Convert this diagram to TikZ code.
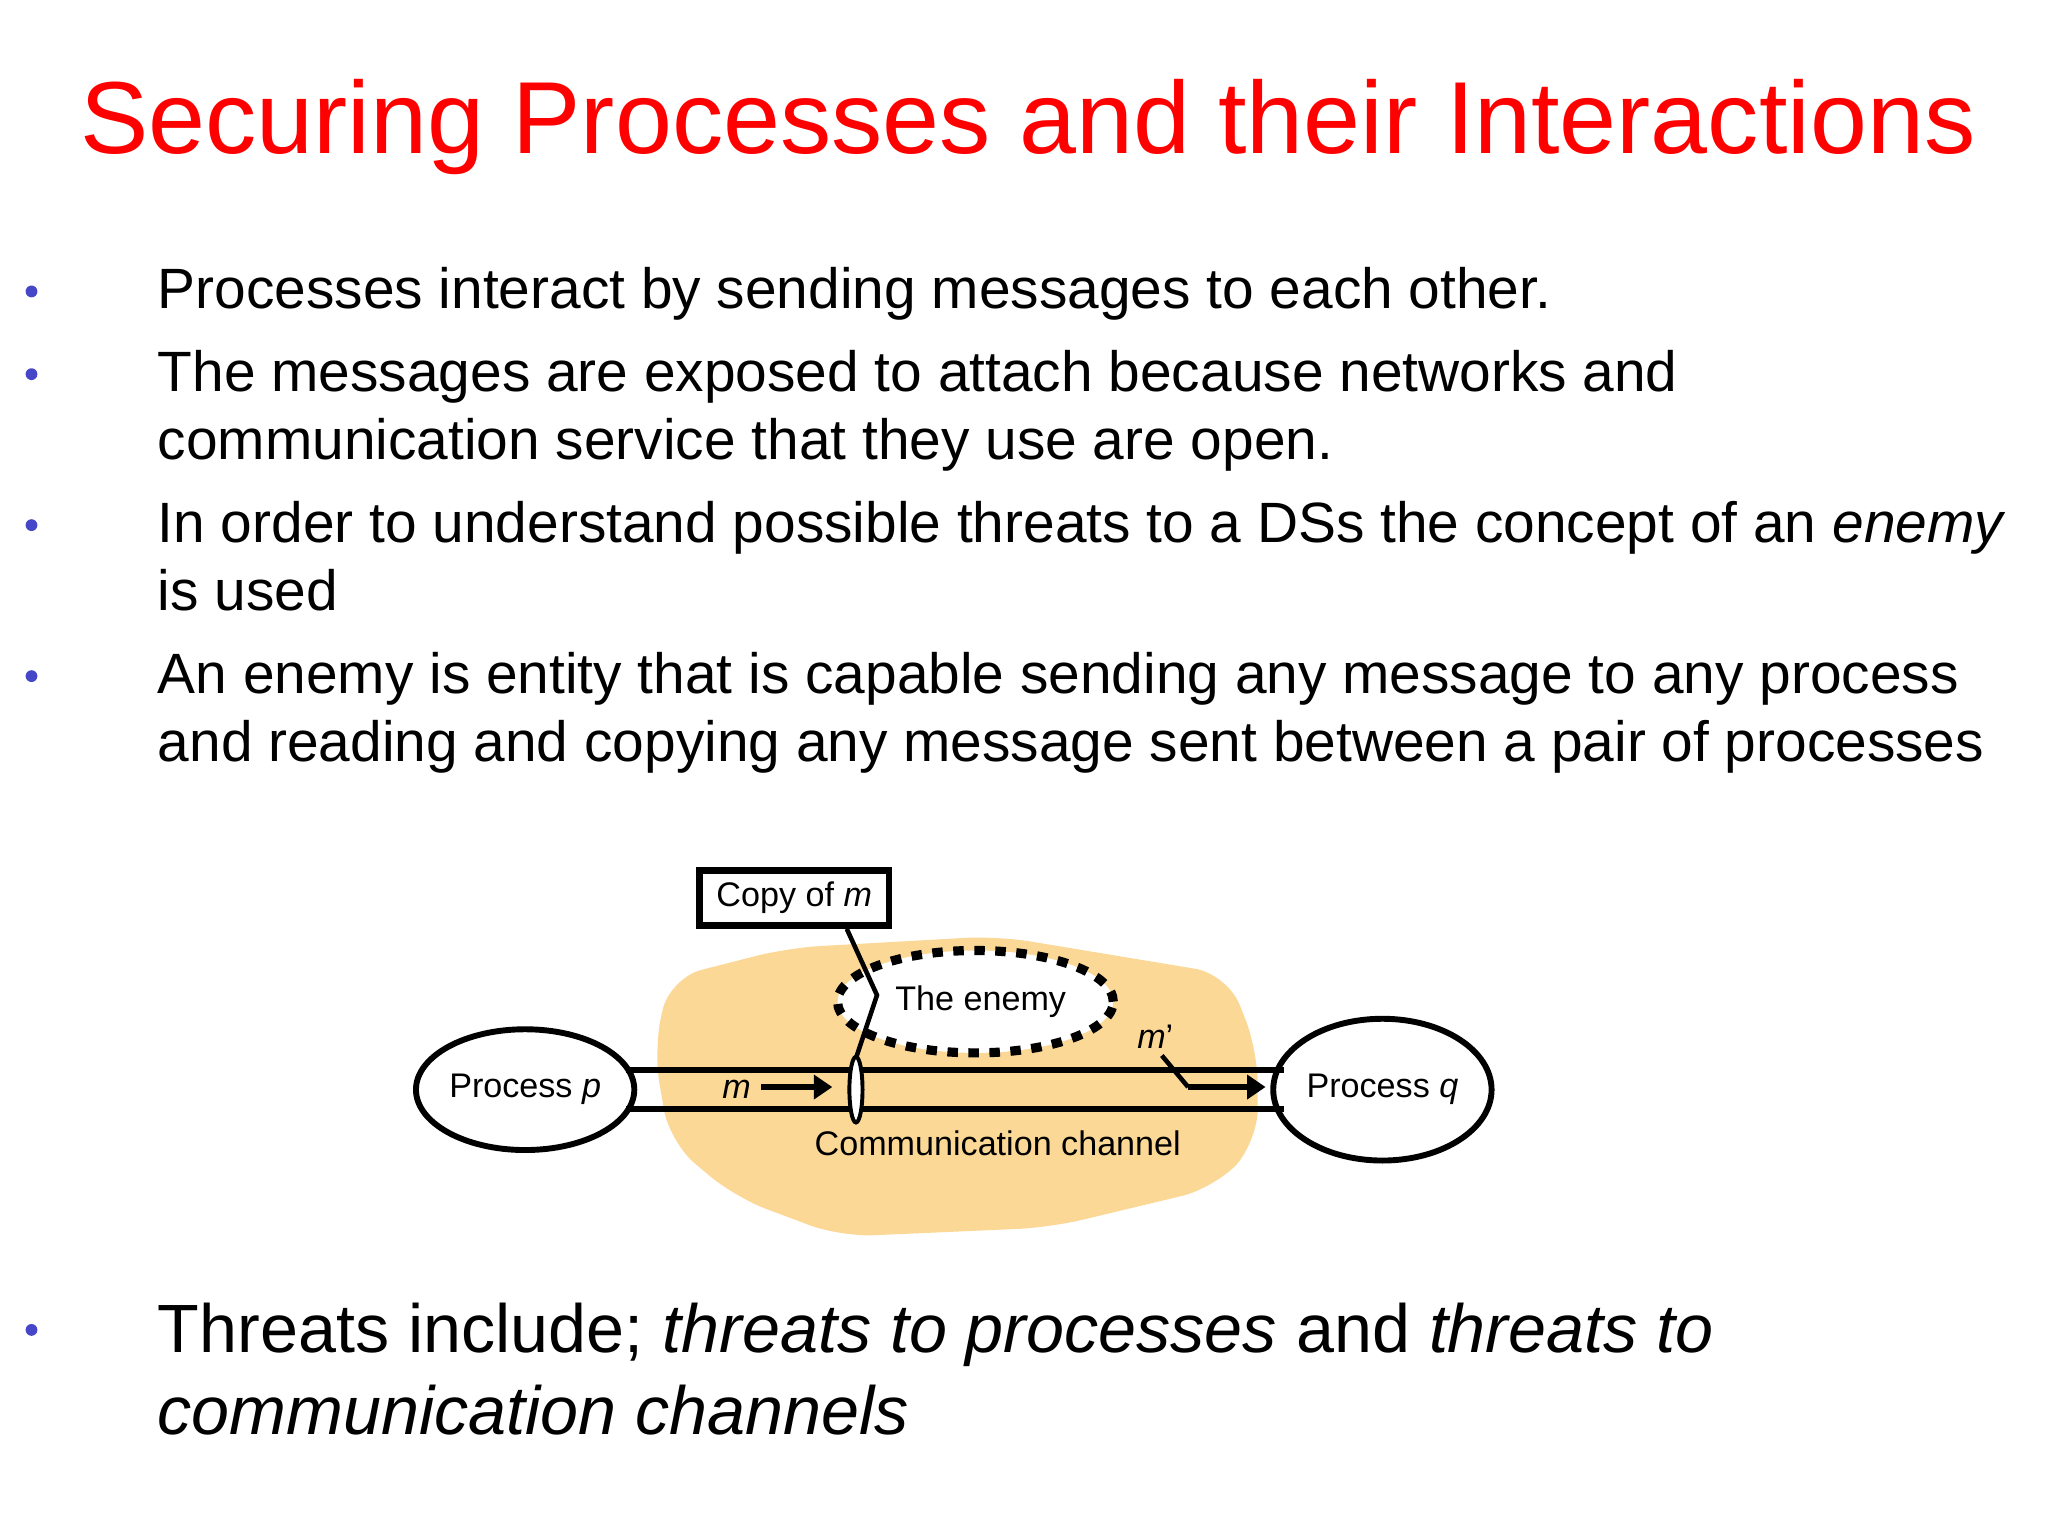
\documentclass[tikz,border=0pt]{standalone}
\usepackage{fontspec}
\setmainfont{Liberation Sans}
\usetikzlibrary{arrows.meta,shapes.geometric}
\definecolor{blob}{RGB}{252,216,150}
\definecolor{bulc}{RGB}{70,70,200}
\begin{document}
\begin{tikzpicture}[x=1pt,y=-1pt,
  bul/.style={anchor=base west,font=\fontsize{43.3}{52}\selectfont,inner sep=0},
  bigb/.style={anchor=base west,font=\fontsize{52}{64}\selectfont,inner sep=0},
  dot/.style={circle,fill=bulc,inner sep=0,minimum size=9pt},
  lab/.style={font=\fontsize{26}{30}\selectfont,inner sep=1pt},
  proc/.style={draw,ellipse,line width=4.5pt},
  arr/.style={line width=4pt,-{Triangle[length=14pt,width=18pt]}}]
\useasboundingbox (0,0) rectangle (1560,1170);
\fill[white] (0,0) rectangle (1560,1170);
\node[anchor=base,text=red,font=\fontsize{78}{80}\selectfont,inner sep=0] (title) at (783,117) {Securing Processes and their Interactions};
\node[dot] (d1) at (24,222) {}; \node[bul] (b1) at (120,235) {Processes interact by sending messages to each other.};
\node[dot] (d2) at (24,285) {}; \node[bul] (b2) at (120,298) {The messages are exposed to attach because networks and};
\node[bul] (b2b) at (120,350) {communication service that they use are open.};
\node[dot] (d3) at (24,400) {}; \node[bul] (b3) at (120,413) {In order to understand possible threats to a DSs the concept of an \textit{enemy}};
\node[bul] (b3b) at (120,465) {is used};
\node[dot] (d4) at (24,515) {}; \node[bul] (b4) at (120,528) {An enemy is entity that is capable sending any message to any process};
\node[bul] (b4b) at (120,580) {and reading and copying any message sent between a pair of processes};
\node[dot] (d5) at (24,1013) {}; \node[bigb] (b5) at (120,1030) {Threats include; \textit{threats to processes} and \textit{threats to}};
\node[bigb] (b5b) at (120,1093) {\textit{communication channels}};
% blob
\fill[blob,rounded corners=25pt] (510,745) -- (600,722) -- (760,713) -- (935,742) -- (958,800) -- (958,870) -- (925,905) -- (800,935) -- (640,942) -- (560,912) -- (510,870) -- (498,800) -- cycle;
\node[proc,minimum width=154pt,minimum height=92pt,lab] (p) at (400,830) {Process \textit{p}};
\node[proc,minimum width=156pt,minimum height=108pt,lab] (q) at (1053,830) {Process \textit{q}};
\draw[line width=4.5pt] (477,815) -- (978,815) (477,845) -- (978,845);
\node[draw,line width=7pt,dash pattern=on 8pt off 8pt,ellipse,fill=white,minimum width=210pt,minimum height=78pt,lab] (en) at (743,763) {\phantom{x}};
\node[lab] (ent) at (747,763) {The enemy};
\node[draw,line width=5pt,lab,minimum width=144pt,minimum height=42pt] (copy) at (605,684) {Copy of \textit{m}};
\node[draw,line width=3pt,ellipse,fill=white,minimum width=10pt,minimum height=50pt,inner sep=0] (tap) at (652,830) {};
\draw[line width=3.5pt] (copy.south) ++(40,0) coordinate (c1) -- (668,758) -- (652,806);
\node[lab] (m) at (561,830) {\textit{m}};
\coordinate (ma) at (580,828); \coordinate (mb) at (634,828);
\draw[arr] (ma) -- (mb);
\node[lab] (mp) at (880,790) {\textit{m}’};
\coordinate (m1) at (885,804); \coordinate (m2) at (905,828); \coordinate (m3) at (964,828);
\draw[line width=3.5pt] (m1) -- (m2);
\draw[arr] (m2) -- (m3);
\node[lab] (cc) at (760,871) {Communication channel};
\end{tikzpicture}
\end{document}
